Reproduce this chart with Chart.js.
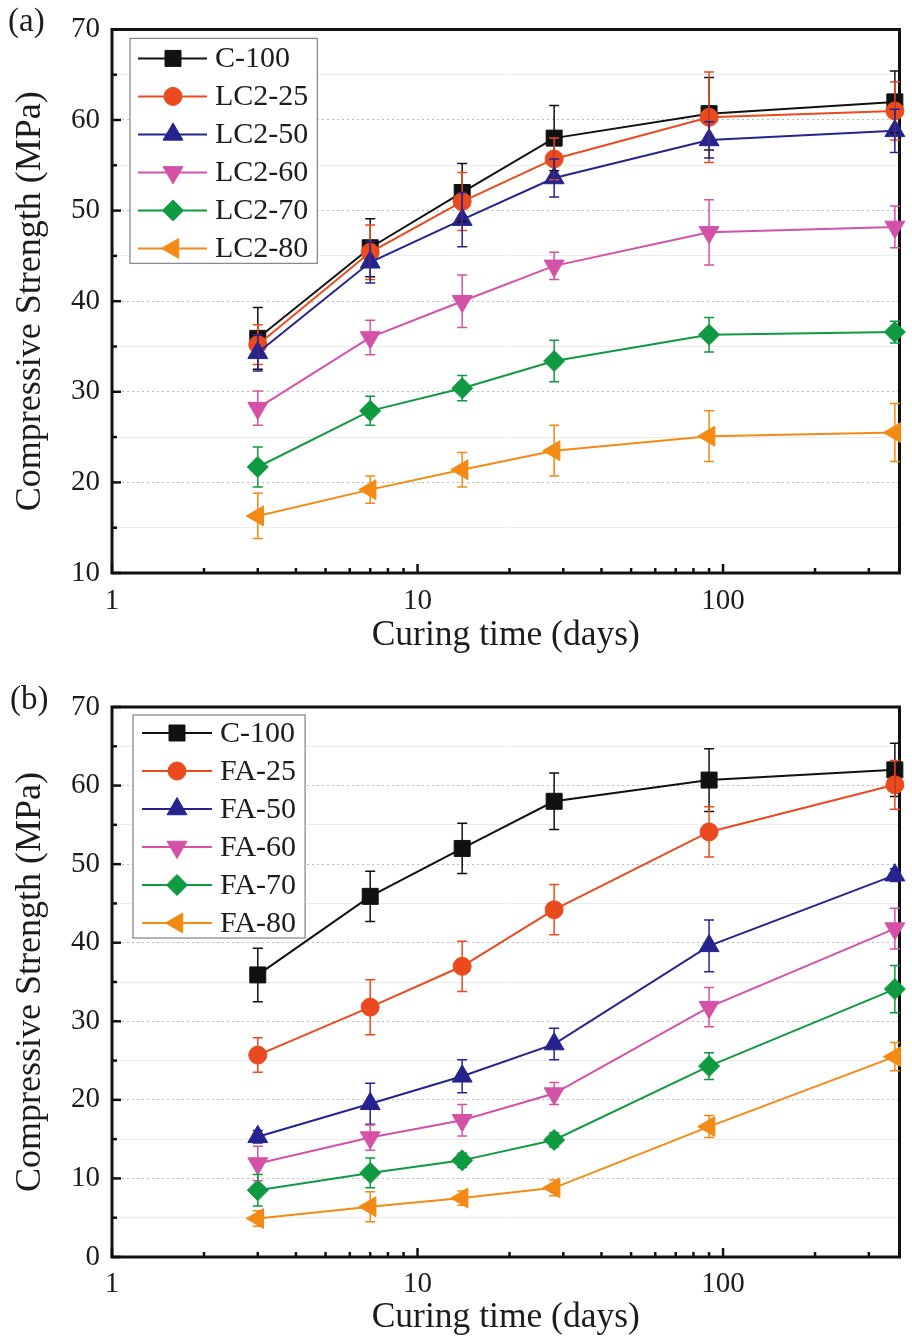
<!DOCTYPE html>
<html>
<head>
<meta charset="utf-8">
<title>Compressive strength vs curing time</title>
<script src="https://cdn.jsdelivr.net/npm/chart.js@4.4.1/dist/chart.umd.min.js"></script>
<style>
    html, body { margin: 0; padding: 0; background: #fff; }
    #wrap { position: relative; width: 912px; height: 1339px; overflow: hidden; }
    canvas { position: absolute; left: 0; }
    #chartA { top: 0; }
    #chartB { top: 660px; }
</style>
</head>
<body>
<div id="wrap">
    <canvas id="chartA" width="912" height="660"></canvas>
    <canvas id="chartB" width="912" height="679"></canvas>
</div>
<script>
// Curing ages (days) shared by both panels
const curingDays = [3, 7, 14, 28, 90, 365];
const xTickLabels = [1, 10, 100];

// Panel (a): limestone calcined clay blends
const namesA = ['C-100', 'LC2-25', 'LC2-50', 'LC2-60', 'LC2-70', 'LC2-80'];
const c100 = [35.9, 45.9, 52.0, 58.0, 60.7, 62.0];
const c100Err = [3.4, 3.2, 3.2, 3.6, 4.0, 3.4];
const lc2_25 = [35.2, 45.4, 51.0, 55.7, 60.3, 61.0];
const lc2_25Err = [2.2, 3.0, 3.2, 2.3, 5.0, 3.2];
const lc2_50 = [34.3, 44.3, 49.0, 53.6, 57.8, 58.8];
const lc2_50Err = [2.0, 2.3, 3.0, 2.1, 2.0, 2.4];
const lc2_60 = [28.2, 36.0, 40.0, 43.9, 47.6, 48.2];
const lc2_60Err = [1.9, 1.9, 2.9, 1.5, 3.6, 2.3];
const lc2_70 = [21.7, 27.9, 30.4, 33.4, 36.3, 36.6];
const lc2_70Err = [2.2, 1.6, 1.4, 2.3, 1.9, 1.2];
const lc2_80 = [16.3, 19.2, 21.4, 23.5, 25.1, 25.5];
const lc2_80Err = [2.5, 1.5, 1.9, 2.8, 2.8, 3.2];

// Panel (b): fly ash blends
const namesB = ['C-100', 'FA-25', 'FA-50', 'FA-60', 'FA-70', 'FA-80'];
const fa25 = [25.7, 31.8, 37.0, 44.2, 54.1, 60.1];
const fa25Err = [2.2, 3.5, 3.2, 3.2, 3.2, 3.1];
const fa50 = [15.3, 19.5, 23.0, 27.1, 39.6, 48.6];
const fa50Err = [0.8, 2.6, 2.1, 2.0, 3.3, 0.8];
const fa60 = [11.9, 15.2, 17.4, 20.8, 31.8, 41.8];
const fa60Err = [2.2, 1.6, 2.0, 1.4, 2.5, 2.6];
const fa70 = [8.5, 10.7, 12.3, 14.9, 24.3, 34.1];
const fa70Err = [2.0, 1.9, 0.9, 0.9, 1.7, 3.0];
const fa80 = [4.9, 6.4, 7.5, 8.8, 16.6, 25.5];
const fa80Err = [1.0, 1.9, 0.9, 1.0, 1.4, 1.8];

// Series look (same order in both panels)
const seriesColors = ['#111111', '#EB4A1E', '#25248F', '#D352A8', '#0F9A42', '#F38A14'];
const markers = [
    { pointStyle: 'rect', radius: 11.3, rotation: 0 },
    { pointStyle: 'circle', radius: 9, rotation: 0 },
    { pointStyle: 'triangle', radius: 11.5, rotation: 0 },
    { pointStyle: 'triangle', radius: 11.5, rotation: 180 },
    { pointStyle: 'rectRot', radius: 10.5, rotation: 0 },
    { pointStyle: 'triangle', radius: 11.5, rotation: 270 }
];

const SERIF = '"Liberation Serif", "Times New Roman", serif';
const TEXT_COLOR = '#1c1c1c';

function isDecade(v) {
    const l = Math.log10(v);
    return Math.abs(l - Math.round(l)) < 1e-9;
}

function buildDatasets(names, values, errors) {
    return names.map((name, i) => ({
        label: name,
        data: curingDays.map((d, j) => ({ x: d, y: values[i][j] })),
        errorBars: errors[i],
        borderColor: seriesColors[i],
        backgroundColor: seriesColors[i],
        pointBackgroundColor: seriesColors[i],
        pointBorderColor: seriesColors[i],
        pointBorderWidth: 1,
        pointStyle: markers[i].pointStyle,
        pointRadius: markers[i].radius,
        pointRotation: markers[i].rotation,
        borderWidth: 2,
        tension: 0,
        clip: false,
        order: names.length - i
    }));
}

// Plot frame with inward tick marks (drawn under the data)
const framePlugin = {
    id: 'frame',
    beforeDatasetsDraw(chart) {
        const { ctx, chartArea: a, scales } = chart;
        ctx.save();
        ctx.strokeStyle = '#111';
        ctx.lineCap = 'butt';

        // tick marks
        ctx.lineWidth = 2.5;
        scales.y.ticks.forEach(t => {
            const y = scales.y.getPixelForValue(t.value);
            const len = t.value % 10 === 0 ? 9 : 5;
            ctx.beginPath();
            ctx.moveTo(a.left, y);
            ctx.lineTo(a.left + len, y);
            ctx.stroke();
        });
        scales.x.ticks.forEach(t => {
            const sig = t.value / Math.pow(10, Math.floor(Math.log10(t.value)));
            if (Math.abs(sig - Math.round(sig)) > 1e-6) return;
            const x = scales.x.getPixelForValue(t.value);
            const len = isDecade(t.value) ? 9 : 5;
            ctx.beginPath();
            ctx.moveTo(x, a.bottom);
            ctx.lineTo(x, a.bottom - len);
            ctx.stroke();
        });

        // frame
        ctx.lineWidth = 3;
        ctx.beginPath();
        ctx.moveTo(a.left, a.top);
        ctx.lineTo(a.right, a.top);
        ctx.lineTo(a.right, a.bottom);
        ctx.lineTo(a.left, a.bottom);
        ctx.closePath();
        ctx.stroke();
        ctx.restore();
    }
};

// Vertical error bars with caps, read from dataset.errorBars
const errorBarPlugin = {
    id: 'errorBars',
    afterDatasetsDraw(chart) {
        const { ctx } = chart;
        const yScale = chart.scales.y;
        ctx.save();
        ctx.lineWidth = 1.5;
        chart.data.datasets.forEach((ds, i) => {
            const meta = chart.getDatasetMeta(i);
            ctx.strokeStyle = ds.borderColor;
            meta.data.forEach((pt, j) => {
                const v = ds.data[j].y;
                const e = ds.errorBars[j];
                const yTop = yScale.getPixelForValue(v + e);
                const yBot = yScale.getPixelForValue(v - e);
                ctx.beginPath();
                ctx.moveTo(pt.x, yTop);
                ctx.lineTo(pt.x, yBot);
                ctx.moveTo(pt.x - 5, yTop);
                ctx.lineTo(pt.x + 5, yTop);
                ctx.moveTo(pt.x - 5, yBot);
                ctx.lineTo(pt.x + 5, yBot);
                ctx.stroke();
            });
        });
        ctx.restore();
    }
};

// Boxed legend inside the plot plus the panel letter
const decorPlugin = {
    id: 'decor',
    afterDraw(chart, args, opts) {
        const { ctx, chartArea: a } = chart;
        const datasets = chart.data.datasets;
        const left = a.left + opts.dx;
        const top = a.top + opts.dy;
        ctx.save();
        ctx.font = '30px ' + SERIF;
        const textW = Math.max(...datasets.map(ds => ctx.measureText(ds.label).width));
        const w = opts.textX + textW + 9;
        const h = opts.firstRow + opts.rowGap * (datasets.length - 1) + 15;
        ctx.fillStyle = '#fff';
        ctx.fillRect(left, top, w, h);
        ctx.strokeStyle = '#8a8a8a';
        ctx.lineWidth = 1.3;
        ctx.strokeRect(left, top, w, h);

        datasets.forEach((ds, i) => {
            const y = top + opts.firstRow + i * opts.rowGap;
            ctx.strokeStyle = ds.borderColor;
            ctx.fillStyle = ds.borderColor;
            ctx.lineWidth = 2;
            ctx.beginPath();
            ctx.moveTo(left + opts.lineX0, y);
            ctx.lineTo(left + opts.lineX1, y);
            ctx.stroke();
            ctx.lineWidth = 1;
            Chart.helpers.drawPoint(ctx, {
                pointStyle: markers[i].pointStyle,
                radius: markers[i].radius,
                rotation: markers[i].rotation,
                borderWidth: 1
            }, left + opts.markerX, y);
            ctx.fillStyle = TEXT_COLOR;
            ctx.textAlign = 'left';
            ctx.textBaseline = 'middle';
            ctx.fillText(ds.label, left + opts.textX, y + 1);
        });

        ctx.font = '33px ' + SERIF;
        ctx.fillStyle = TEXT_COLOR;
        ctx.textAlign = 'left';
        ctx.textBaseline = 'middle';
        ctx.fillText(opts.label, opts.labelX, opts.labelY);
        ctx.restore();
    }
};

function makePanel(canvasId, datasets, panel) {
    const canvas = document.getElementById(canvasId);
    return new Chart(canvas.getContext('2d'), {
        type: 'line',
        data: { datasets },
        options: {
            responsive: false,
            animation: false,
            devicePixelRatio: 1,
            layout: { padding: { top: panel.top, right: 1, left: 0, bottom: 0 } },
            plugins: {
                legend: { display: false },
                tooltip: { enabled: false },
                decor: panel.decor
            },
            scales: {
                x: {
                    type: 'logarithmic',
                    min: 1,
                    max: 378,
                    grid: { display: false, drawTicks: false },
                    border: { display: false },
                    ticks: {
                        autoSkip: false,
                        maxRotation: 0,
                        padding: panel.xTickPad,
                        color: TEXT_COLOR,
                        font: { family: SERIF, size: 29 },
                        callback: v => (xTickLabels.includes(v) ? String(v) : '')
                    },
                    title: {
                        display: true,
                        text: 'Curing time (days)',
                        color: TEXT_COLOR,
                        font: { family: SERIF, size: 35.5 },
                        padding: { top: 0, bottom: panel.xTitlePad }
                    },
                    afterFit: s => { s.height = panel.xAxisH; }
                },
                y: {
                    min: panel.yMin,
                    max: 70,
                    grid: {
                        drawTicks: false,
                        lineWidth: 1,
                        color: c => (c.tick && c.tick.value % 10 === 0 ? '#bcbcbc' : '#ececec')
                    },
                    border: {
                        display: false,
                        dash: c => (c.tick && c.tick.value % 10 === 0 ? [2, 3] : [])
                    },
                    ticks: {
                        stepSize: 5,
                        autoSkip: false,
                        padding: 12,
                        color: TEXT_COLOR,
                        font: { family: SERIF, size: 29 },
                        callback: v => (v % 10 === 0 ? String(v) : '')
                    },
                    title: {
                        display: true,
                        text: 'Compressive Strength (MPa)',
                        color: TEXT_COLOR,
                        font: { family: SERIF, size: 36 },
                        padding: { top: 9, bottom: 0 }
                    },
                    afterFit: s => { s.width = 112; }
                }
            }
        },
        plugins: [framePlugin, errorBarPlugin, decorPlugin]
    });
}

makePanel('chartA',
    buildDatasets(namesA,
        [c100, lc2_25, lc2_50, lc2_60, lc2_70, lc2_80],
        [c100Err, lc2_25Err, lc2_50Err, lc2_60Err, lc2_70Err, lc2_80Err]),
    {
        top: 26, yMin: 10, xAxisH: 87, xTickPad: 11, xTitlePad: 3,
        decor: { label: '(a)', labelX: 8, labelY: 22, dx: 18, dy: 9,
                 firstRow: 20, rowGap: 38, lineX0: 8, lineX1: 77, markerX: 43, textX: 85 }
    });

makePanel('chartB',
    buildDatasets(namesB,
        [c100, fa25, fa50, fa60, fa70, fa80],
        [c100Err, fa25Err, fa50Err, fa60Err, fa70Err, fa80Err]),
    {
        top: 47, yMin: 0, xAxisH: 82, xTickPad: 10, xTitlePad: 0,
        decor: { label: '(b)', labelX: 10, labelY: 40, dx: 21, dy: 8,
                 firstRow: 18, rowGap: 38, lineX0: 9, lineX1: 79, markerX: 44, textX: 87 }
    });
</script>
</body>
</html>
